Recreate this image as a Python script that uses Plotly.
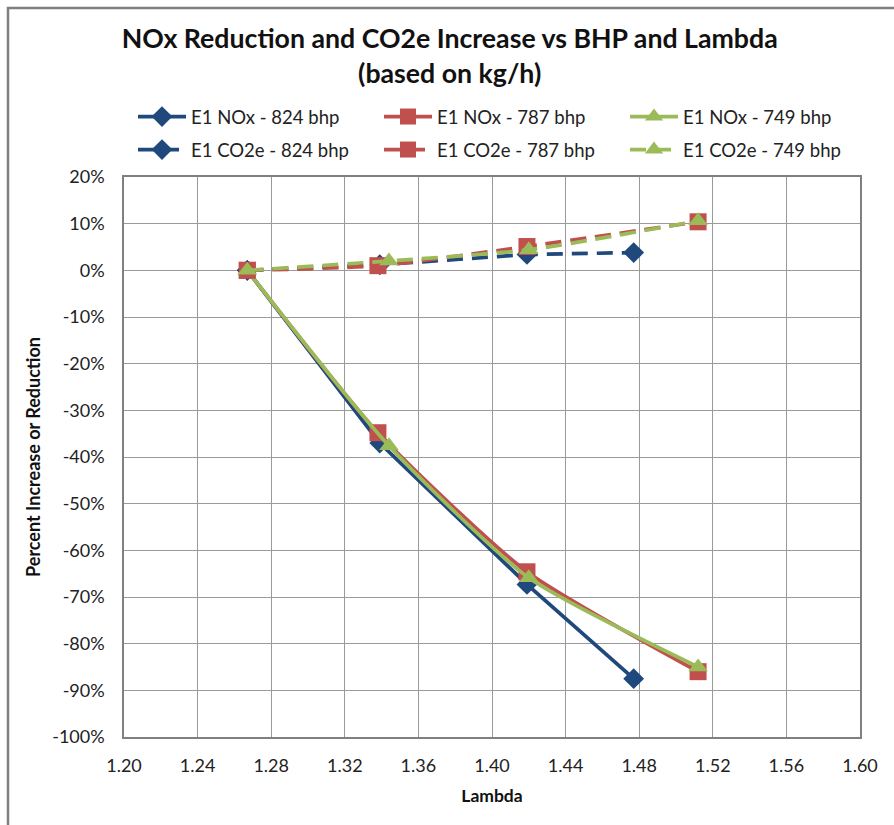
import plotly.graph_objects as go

# Data
lam_824 = [1.267, 1.339, 1.419, 1.477]
lam_787 = [1.267, 1.338, 1.419, 1.512]
lam_749 = [1.267, 1.344, 1.420, 1.512]

nox_824 = [0.0, -37.0, -67.3, -87.5]
nox_787 = [0.0, -34.8, -64.6, -86.0]
nox_749 = [0.0, -37.6, -65.9, -85.0]

co2_824 = [0.0, 1.2, 3.4, 3.8]
co2_787 = [0.0, 1.0, 5.1, 10.4]
co2_749 = [0.0, 2.0, 4.4, 10.6]

names_nox = ["E1 NOx - 824 bhp", "E1 NOx - 787 bhp", "E1 NOx - 749 bhp"]
names_co2 = ["E1 CO2e - 824 bhp", "E1 CO2e - 787 bhp", "E1 CO2e - 749 bhp"]

x_ticks = [1.20, 1.24, 1.28, 1.32, 1.36, 1.40, 1.44, 1.48, 1.52, 1.56, 1.60]
y_ticks = list(range(-100, 21, 10))

BLUE = "#1F497D"
RED = "#C0504D"
GREEN = "#9BBB59"
FONT = "Lato, Carlito, 'Liberation Sans', sans-serif"

styles = [
    (BLUE, "diamond", 16, "linear"),
    (RED, "square", 17, "spline"),
    (GREEN, "triangle-up", 17, "spline"),
]

fig = go.Figure()
for (xs, ys, name), (c, sym, sz, shp) in zip(
    [(lam_824, nox_824, names_nox[0]), (lam_787, nox_787, names_nox[1]), (lam_749, nox_749, names_nox[2])],
    styles,
):
    fig.add_trace(go.Scatter(
        x=xs, y=ys, name=name, mode="lines+markers", legend="legend",
        line=dict(color=c, width=3.7, shape=shp, smoothing=0.6),
        marker=dict(symbol=sym, size=sz, color=c),
    ))
for (xs, ys, name), (c, sym, sz, shp) in zip(
    [(lam_824, co2_824, names_co2[0]), (lam_787, co2_787, names_co2[1]), (lam_749, co2_749, names_co2[2])],
    styles,
):
    fig.add_trace(go.Scatter(
        x=xs, y=ys, name=name, mode="lines+markers", legend="legend2",
        line=dict(color=c, width=3.7, shape=shp, smoothing=0.6, dash="16px,9px"),
        marker=dict(symbol=sym, size=sz, color=c),
    ))

PLOT_TOP, PLOT_H, PLOT_L, PLOT_W = 177, 560, 124, 736


def legend_cfg(row_y):
    return dict(
        orientation="h", x=(133 - PLOT_L) / PLOT_W, xanchor="left",
        y=1 + (PLOT_TOP - row_y) / PLOT_H, yanchor="middle",
        entrywidth=183, entrywidthmode="pixels",
        font=dict(family=FONT, size=18.5, color="#222222"),
        bgcolor="rgba(0,0,0,0)", itemwidth=48,
    )


fig.update_layout(
    width=894, height=825,
    margin=dict(l=124, r=34, t=177, b=88),
    paper_bgcolor="white", plot_bgcolor="white",
    font=dict(family=FONT, size=16, color="#222222"),
    title=dict(
        text="<b>NOx Reduction and CO2e Increase vs BHP and Lambda<br>(based on kg/h)</b>",
        x=0.503, xanchor="center", xref="container",
        y=1 - 48 / 825, yanchor="middle", yref="container",
        font=dict(family=FONT, size=26.7, color="#111111"),
    ),
    legend=legend_cfg(117),
    legend2=legend_cfg(150),
    showlegend=True,
)

fig.update_xaxes(
    range=[1.20, 1.60], tickvals=x_ticks, ticktext=[f"{v:.2f}" for v in x_ticks],
    showgrid=True, gridcolor="#9a9a9a", gridwidth=1,
    showline=True, linecolor="#808080", linewidth=1.5, mirror=True,
    zeroline=False, ticks="", ticklabelstandoff=12,
    tickfont=dict(family=FONT, size=18, color="#222222"),
    title=dict(text="<b>Lambda</b>", font=dict(family=FONT, size=17.5, color="#111111"), standoff=14),
)
fig.update_yaxes(
    range=[-100, 20], tickvals=y_ticks, ticktext=[f"{v}%" for v in y_ticks],
    showgrid=True, gridcolor="#9a9a9a", gridwidth=1,
    showline=True, linecolor="#808080", linewidth=1.5, mirror=True,
    zeroline=False, ticks="", ticklabelstandoff=14,
    tickfont=dict(family=FONT, size=18, color="#222222"),
    title=dict(text="<b>Percent Increase or Reduction</b>", font=dict(family=FONT, size=18, color="#111111"), standoff=7),
)

# outer chart border
fig.add_shape(
    type="rect", xref="paper", yref="paper",
    x0=(8 - PLOT_L) / PLOT_W, x1=(905 - PLOT_L) / PLOT_W,
    y0=-(840 - 737) / PLOT_H, y1=1 + (PLOT_TOP - 8) / PLOT_H,
    line=dict(color="#808080", width=2.5), fillcolor="rgba(0,0,0,0)", layer="below",
)

fig.write_html("out.html")
